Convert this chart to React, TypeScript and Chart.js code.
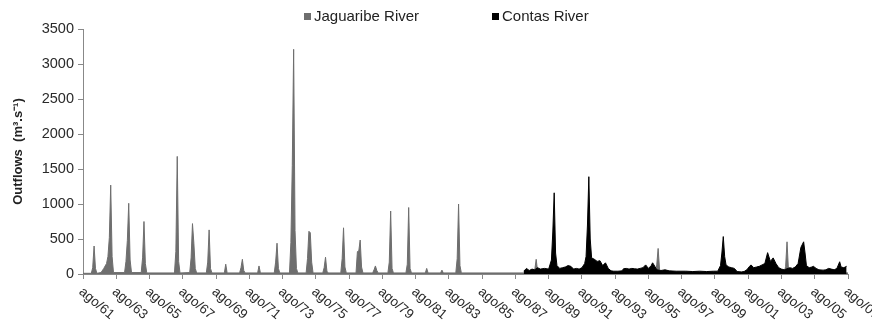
import React, { useEffect, useRef } from "react";
import { Chart, registerables } from "chart.js";

Chart.register(...registerables);

// Months counted from Aug 1961 (0) to Aug 2007 (552)
const tickLabels = [
  "ago/61", "ago/63", "ago/65", "ago/67", "ago/69", "ago/71", "ago/73", "ago/75",
  "ago/77", "ago/79", "ago/81", "ago/83", "ago/85", "ago/87", "ago/89", "ago/91",
  "ago/93", "ago/95", "ago/97", "ago/99", "ago/01", "ago/03", "ago/05", "ago/07",
];

const seriesNames = ["Jaguaribe River", "Contas River"];

const jagMonth = [
  0, 6, 7, 8, 9, 10, 13, 15, 17, 18, 19, 20, 21, 22, 30, 31, 32, 33, 34, 35,
  42, 43, 44, 45, 46, 66, 67, 68, 69, 70, 77, 78, 79, 80, 81, 82, 89, 90, 91, 92,
  93, 102, 103, 104, 113, 114, 115, 116, 117, 126, 127, 128, 138, 139, 140, 141, 142,
  149, 150, 151, 152, 153, 154, 155, 161, 162, 163, 164, 165, 166, 173, 174, 175, 176,
  177, 186, 187, 188, 189, 190, 197, 198, 199, 200, 201, 202, 209, 210, 211, 212, 213,
  220, 221, 222, 223, 224, 233, 234, 235, 236, 237, 247, 248, 249, 258, 259, 260,
  269, 270, 271, 272, 273, 325, 326, 327, 328, 329, 413, 414, 415, 416, 417,
  506, 507, 508, 509, 510, 552,
];
const jagFlow = [
  10, 10, 90, 400, 80, 10, 20, 80, 150, 250, 520, 1270, 250, 20, 20, 180, 480, 1010, 200, 20,
  20, 230, 750, 150, 15, 15, 320, 1680, 180, 15, 20, 230, 720, 440, 80, 15, 15, 170, 630, 80,
  15, 15, 140, 15, 15, 90, 210, 50, 15, 15, 115, 15, 15, 170, 440, 80, 15,
  15, 450, 1550, 3210, 620, 80, 15, 15, 220, 610, 590, 170, 15, 15, 90, 240, 40,
  15, 15, 220, 660, 100, 15, 15, 320, 330, 485, 100, 15, 15, 60, 115, 50, 15,
  15, 170, 900, 80, 15, 15, 140, 950, 80, 15, 15, 80, 15, 15, 55, 15,
  15, 220, 1000, 120, 15, 15, 60, 210, 40, 15, 15, 130, 365, 70, 15,
  15, 110, 460, 70, 15, 15,
];

const contasMonth = [
  318, 320, 322, 324, 326, 328, 330, 333, 336, 338, 339, 340, 341, 342, 344, 346, 348, 350,
  352, 354, 356, 358, 360, 362, 363, 364, 365, 366, 367, 369, 371, 373, 375, 377, 379, 381,
  383, 386, 389, 390, 392, 394, 396, 398, 400, 402, 404, 406, 408, 410, 411, 412, 414, 417,
  420, 423, 428, 435, 440, 445, 450, 455, 458, 460, 461, 462, 463, 464, 466, 468, 470, 472,
  475, 477, 479, 481, 482, 484, 486, 488, 490, 492, 494, 496, 498, 500, 502, 504, 506, 510,
  512, 514, 516, 518, 520, 521, 522, 524, 526, 527, 529, 531, 534, 536, 538, 540, 542, 544,
  546, 547, 549, 551,
];
const contasFlow = [
  40, 80, 50, 70, 60, 90, 70, 80, 70, 200, 600, 1160, 300, 120, 80, 90, 100, 120,
  110, 70, 80, 70, 90, 150, 250, 700, 1390, 500, 230, 210, 180, 190, 120, 160, 80, 45,
  40, 40, 45, 75, 80, 70, 80, 75, 70, 80, 90, 130, 80, 120, 160, 130, 60, 50,
  60, 45, 40, 40, 35, 40, 35, 40, 40, 120, 300, 535, 250, 130, 100, 90, 80, 35,
  30, 35, 60, 110, 130, 90, 100, 110, 130, 150, 305, 180, 230, 150, 90, 70, 60, 90,
  80, 100, 150, 380, 460, 300, 120, 90, 100, 110, 80, 60, 55, 60, 80, 70, 60, 80,
  175, 100, 90, 110,
];

const seriesColors = ["#6e6e6e", "#000000"];
const FONT = '"Liberation Sans", Arial, sans-serif';

const customPlugin = {
  id: "customDecor",
  afterDraw(chart: any) {
    const ctx = chart.ctx;
    const xs = chart.scales.x;
    const bottom = chart.chartArea.bottom;
    // rotated x tick labels
    ctx.save();
    ctx.font = `13.5px ${FONT}`;
    ctx.fillStyle = "#2a2a2a";
    ctx.textAlign = "left";
    ctx.textBaseline = "top";
    xs.ticks.forEach((t: any, i: number) => {
      const label = tickLabels[i];
      if (!label) return;
      const px = xs.getPixelForValue(t.value);
      ctx.save();
      ctx.translate(px + 2, bottom + 11);
      ctx.rotate((40 * Math.PI) / 180);
      ctx.fillText(label, 0, 0);
      ctx.restore();
    });
    ctx.restore();

    // legend
    ctx.save();
    ctx.font = `15px ${FONT}`;
    ctx.textBaseline = "middle";
    ctx.textAlign = "left";
    const y = 17;
    const starts = [304, 492];
    chart.data.datasets.forEach((ds: any, i: number) => {
      const x0 = starts[i];
      ctx.fillStyle = ds.backgroundColor;
      ctx.fillRect(x0, y - 4, 7, 7);
      ctx.fillStyle = "#222";
      ctx.fillText(ds.label, x0 + 10, y);
    });
    ctx.restore();
  },
};

export default function App() {
  const ref = useRef<HTMLCanvasElement>(null);

  useEffect(() => {
    document.body.style.margin = "0";
    if (!ref.current) return;
    const chart = new Chart(ref.current, {
      type: "line",
      data: {
        datasets: [
          {
            label: seriesNames[0],
            data: jagMonth.map((m, i) => ({ x: m, y: jagFlow[i] })),
            borderColor: seriesColors[0],
            backgroundColor: seriesColors[0],
            borderWidth: 1,
            fill: "origin",
            pointRadius: 0,
            tension: 0,
            order: 2,
          },
          {
            label: seriesNames[1],
            data: contasMonth.map((m, i) => ({ x: m, y: contasFlow[i] })),
            borderColor: seriesColors[1],
            backgroundColor: seriesColors[1],
            borderWidth: 1,
            fill: "origin",
            pointRadius: 0,
            tension: 0,
            order: 1,
          },
        ],
      },
      options: {
        animation: false,
        responsive: true,
        maintainAspectRatio: false,
        layout: { padding: { top: 29, right: 24, left: 0, bottom: 0 } },
        plugins: {
          legend: { display: false },
          tooltip: { enabled: false },
        },
        scales: {
          x: {
            type: "linear",
            min: 0,
            max: (tickLabels.length - 1) * 24,
            afterFit: (s: any) => {
              s.height = 53;
            },
            ticks: { display: false, stepSize: 24 },
            grid: { drawOnChartArea: false, tickLength: 5, color: "#888" },
            border: { color: "#888", width: 1 },
          },
          y: {
            min: 0,
            max: 3500,
            afterFit: (s: any) => {
              s.width = 83;
            },
            ticks: {
              stepSize: 500,
              padding: 4,
              color: "#2a2a2a",
              font: { size: 14.5, family: FONT },
              callback: (v: any) => String(v),
            },
            grid: { drawOnChartArea: false, tickLength: 5, color: "#888" },
            border: { color: "#888", width: 1 },
            title: {
              display: true,
              text: "Outflows  (m³.s⁻¹)",
              color: "#222",
              font: { size: 13, weight: "bold", family: FONT },
              padding: { top: 11, bottom: 0 },
            },
          },
        },
      },
      plugins: [customPlugin],
    });
    return () => chart.destroy();
  }, []);

  return (
    <div style={{ width: 872, height: 327, position: "relative" }}>
      <canvas ref={ref} />
    </div>
  );
}
